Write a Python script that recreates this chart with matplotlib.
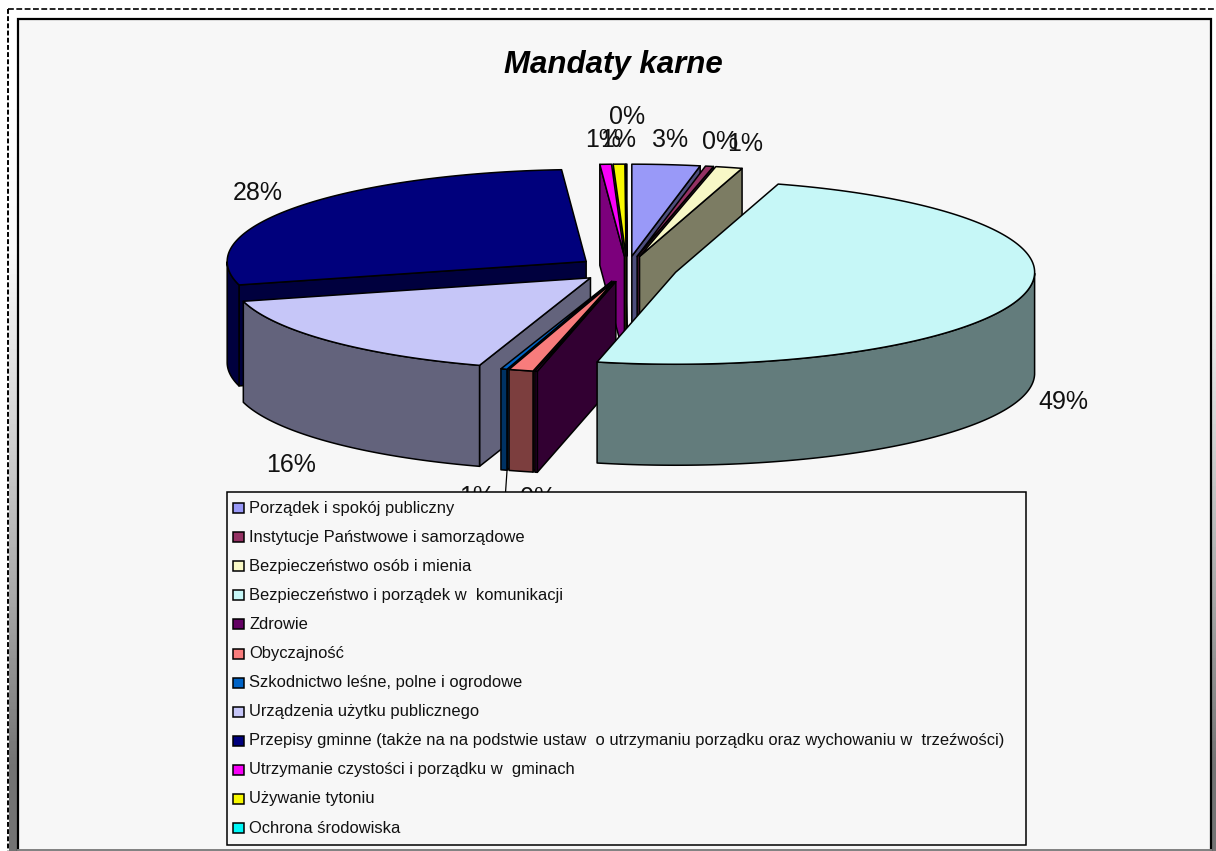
import numpy as np
import matplotlib
matplotlib.use("Agg")
import matplotlib.pyplot as plt
from matplotlib.patches import Polygon, Rectangle

plt.rcParams['font.family'] = ['Liberation Sans', 'DejaVu Sans']

# ---- data ----
categories = [
    "Porządek i spokój publiczny",
    "Instytucje Państwowe i samorządowe",
    "Bezpieczeństwo osób i mienia",
    "Bezpieczeństwo i porządek w  komunikacji",
    "Zdrowie",
    "Obyczajność",
    "Szkodnictwo leśne, polne i ogrodowe",
    "Urządzenia użytku publicznego",
    "Przepisy gminne (także na na podstwie ustaw  o utrzymaniu porządku oraz wychowaniu w  trzeźwości)",
    "Utrzymanie czystości i porządku w  gminach",
    "Używanie tytoniu",
    "Ochrona środowiska",
]
shares = [3.05, 0.36, 1.20, 48.90, 0.11, 1.10, 0.28, 15.90, 28.01, 0.52, 0.52, 0.05]
colors = ["#9999F8", "#943163", "#F8F8C6", "#C6F7F7", "#630063", "#F87C7C",
          "#0063C6", "#C6C6F8", "#00007C", "#F800F8", "#F8F800", "#00F8F8"]
label_pos = [(670, 140), (720, 142), (745, 144), (1063, 402), (538, 498), (477, 497),
             (505, 520), (291, 465), (258, 193), (603, 140), (618, 140), (627, 117)]
draw_order = [11, 10, 9, 0, 1, 2, 8, 7, 6, 5, 4, 3]

# ---- style ----
W, H = 1216, 851
CX, CY = 627, 269
RX, RY, DEPTH, EXPLODE = 359, 92, 101, 0.14
BG = "#F7F7F7"
SHADE = 0.5
band_levels = [[255], [248], [212], [168], [115]]

fig = plt.figure(figsize=(W / 100, H / 100), dpi=100, facecolor="white")
ax = fig.add_axes([0, 0, 1, 1])
ax.axis("off")

# page furniture: fading side bands, chart frame, dashed selection border
for x0, x1 in ((9, 17), (1211, 1216)):
    ax.imshow(band_levels, cmap="gray", vmin=0, vmax=255, aspect="auto",
              extent=(x0, x1, H, 0), interpolation="bilinear", zorder=0)
ax.set_xlim(0, W)
ax.set_ylim(H, 0)
ax.add_patch(Rectangle((17.5, 18.5), 1193.5, 840, fc=BG, ec="black", lw=1.6, zorder=0.5))
ax.plot([18, 1211], [850, 850], color="#808080", lw=1.4, zorder=0.6)
ax.plot([8, 1216], [9, 9], color="black", lw=1.2, ls=(0, (3.5, 1.5)), zorder=1)
ax.plot([8, 8], [9, 851], color="black", lw=1.4, ls=(0, (2.5, 1.2)), zorder=1)

ax.text(613, 65, "Mandaty karne", fontsize=22.5, fontweight="bold", fontstyle="italic",
        ha="center", va="center", color="black", zorder=3)


def shade(c):
    return tuple(v * SHADE for v in matplotlib.colors.to_rgb(c))


edges = np.concatenate([[0], np.cumsum(shares)]) / np.sum(shares) * 2 * np.pi
z = 3
for i in draw_order:
    t0, t1 = edges[i], edges[i + 1]
    mid = (t0 + t1) / 2
    ax0 = CX + EXPLODE * RX * np.sin(mid)
    ay0 = CY - EXPLODE * RY * np.cos(mid)
    t = np.linspace(t0, t1, max(2, int((t1 - t0) * 60)))
    rx = ax0 + RX * np.sin(t)
    ry = ay0 - RY * np.cos(t)
    fc = colors[i]
    dc = shade(fc)
    kw = dict(ec="black", lw=1.1, joinstyle="round")
    # cut faces: only the ones that look towards the viewer
    for k, visible in ((0, np.sin(t0) < 0), (-1, np.sin(t1) > 0)):
        if visible:
            pts = [(ax0, ay0), (rx[k], ry[k]), (rx[k], ry[k] + DEPTH), (ax0, ay0 + DEPTH)]
            ax.add_patch(Polygon(pts, fc=dc, zorder=z, **kw))
            z += 0.01
    # outer wall (front half only)
    front = np.cos(t) <= 0
    if front.sum() >= 2:
        fx, fy = rx[front], ry[front]
        pts = np.vstack([np.c_[fx, fy], np.c_[fx, fy + DEPTH][::-1]])
        ax.add_patch(Polygon(pts, fc=dc, zorder=z, **kw))
        z += 0.01
    # top face
    pts = np.vstack([[ax0, ay0], np.c_[rx, ry]])
    ax.add_patch(Polygon(pts, fc=fc, zorder=z, **kw))
    z += 0.01

# percent labels
for share, (px, py) in zip(shares, label_pos):
    ax.text(px, py, f"{round(share):d}%", fontsize=18, ha="center", va="center",
            color="#111111", zorder=20)

# leader line
ax.plot([507, 505], [471, 500], color="black", lw=0.9, zorder=20)

# legend box
LX, LY, LW, LH = 227, 491.5, 799, 353.5
ax.add_patch(Rectangle((LX, LY), LW, LH, fc=BG, ec="black", lw=1.1, zorder=30))
for n, (name, c) in enumerate(zip(categories, colors)):
    y = 508 + n * 29.1
    ax.add_patch(Rectangle((233, y - 5), 10.5, 10, fc=c, ec="black", lw=1.1, zorder=31))
    ax.text(249, y, name, fontsize=11.9, ha="left", va="center", color="#111111", zorder=31)

fig.savefig("out.png", dpi=100, facecolor="white")
